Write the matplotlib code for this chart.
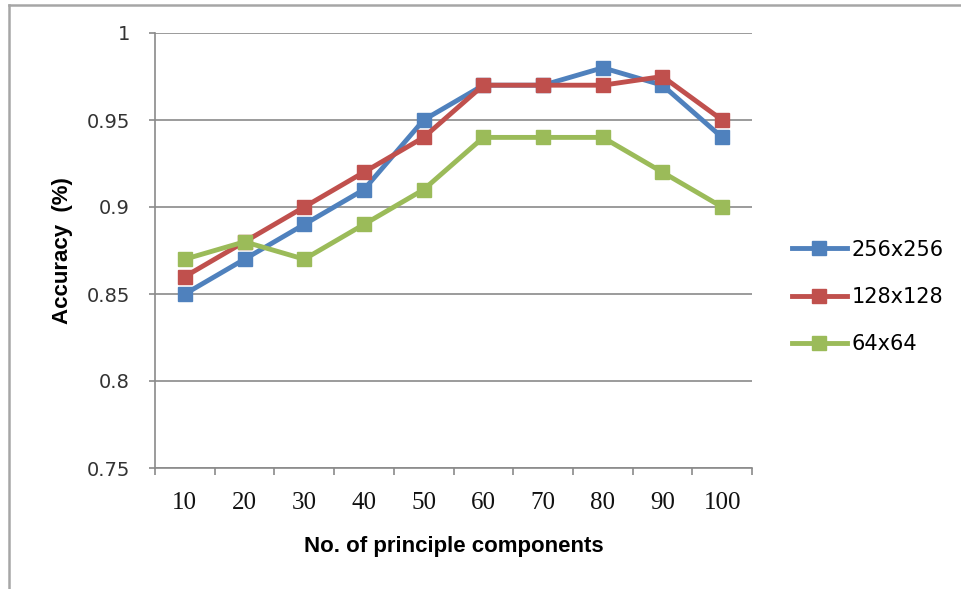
import matplotlib.pyplot as plt
from matplotlib.lines import Line2D
import numpy as np

components = ["10", "20", "30", "40", "50", "60", "70", "80", "90", "100"]
acc_256 = [0.85, 0.87, 0.89, 0.91, 0.95, 0.97, 0.97, 0.98, 0.97, 0.94]
acc_128 = [0.86, 0.88, 0.90, 0.92, 0.94, 0.97, 0.97, 0.97, 0.975, 0.95]
acc_64 = [0.87, 0.88, 0.87, 0.89, 0.91, 0.94, 0.94, 0.94, 0.92, 0.90]
series_names = ["256x256", "128x128", "64x64"]
colors = ["#4F81BD", "#C0504D", "#9BBB59"]

W, H = 961, 589
fig = plt.figure(figsize=(W / 100, H / 100), dpi=100)
ax = fig.add_axes([155 / W, 1 - 468 / H, 597 / W, 435 / H])

# nur obere und linke kante vom rahmen sichtbar
fig.add_artist(Line2D([8.5 / W, 1], [1 - 4.5 / H, 1 - 4.5 / H], transform=fig.transFigure,
                      color="#a6a6a6", linewidth=1.8))
fig.add_artist(Line2D([8.5 / W, 8.5 / W], [0, 1 - 4.5 / H], transform=fig.transFigure,
                      color="#a6a6a6", linewidth=1.8))

x = np.arange(len(components))
for vals, name, c in zip([acc_256, acc_128, acc_64], series_names, colors):
    ax.plot(x, vals, color=c, linewidth=3.5, marker="s", markersize=9.5, label=name, zorder=3)

ax.set_ylim(0.75, 1.0)
ax.set_xlim(-0.5, len(components) - 0.5)
ax.set_yticks(np.arange(0.75, 1.001, 0.05))
ax.set_yticklabels(["0.75", "0.8", "0.85", "0.9", "0.95", "1"], fontsize=14, family="DejaVu Sans", color="#333333")
ax.yaxis.grid(True, color="#8a8a8a", linewidth=1.2)
ax.set_axisbelow(True)

ax.set_xticks(x)
ax.set_xticklabels(components, fontsize=18, family="Liberation Serif", color="#111111")
ax.set_xticks(np.arange(-0.5, len(components), 1), minor=True)
ax.tick_params(axis="x", which="major", length=0, pad=17)
ax.tick_params(axis="x", which="minor", length=5, color="#8a8a8a", width=1.2)
ax.tick_params(axis="y", length=4, color="#8a8a8a", width=1.2, pad=14)

for s in ["top", "right"]:
    ax.spines[s].set_visible(False)
for s in ["left", "bottom"]:
    ax.spines[s].set_color("#8a8a8a")
    ax.spines[s].set_linewidth(1.2)

ax.set_xlabel("No. of principle components", fontsize=16, fontweight="bold", family="Liberation Sans", labelpad=16)
ax.set_ylabel("Accuracy  (%)", fontsize=16, fontweight="bold", family="Liberation Sans", labelpad=10)

handles = [Line2D([0], [0], color=c, linewidth=3.5, marker="s", markersize=9.5) for c in colors]
fig.legend(handles, series_names, loc="center left", bbox_to_anchor=(773 / W, 1 - 297 / H),
           frameon=False, handlelength=2.64, handletextpad=0.24, labelspacing=1.32,
           prop={"family": "DejaVu Sans", "size": 15})

fig.savefig("out.png", dpi=100)
